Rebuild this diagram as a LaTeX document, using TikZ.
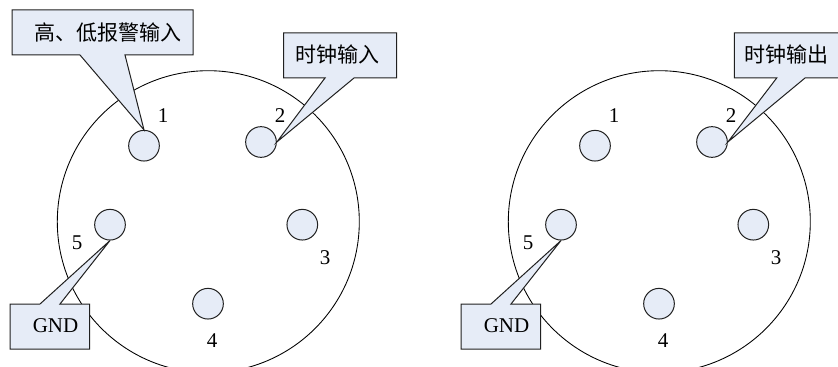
\documentclass[tikz,border=0pt]{standalone}
\usepackage{fontspec}
\setmainfont{Liberation Serif}
\newfontfamily\cjkf{Noto Sans CJK SC}
\definecolor{fillblue}{HTML}{E6ECF7}
\definecolor{edge}{HTML}{202020}
\tikzset{
  pin/.style={circle,draw=edge,fill=fillblue,line width=0.75pt,minimum size=23pt,inner sep=0pt},
  shell/.style={draw=black,line width=0.65pt,fill=white},
  callout/.style={draw=edge,fill=fillblue,line width=0.75pt,line join=miter},
  num/.style={font=\fontsize{15.75}{18}\selectfont,inner sep=0pt},
  lab/.style={font=\fontsize{15.75}{18}\selectfont\cjkf,inner sep=0pt},
  gndlab/.style={font=\fontsize{15.75}{18}\selectfont,inner sep=0pt}
}
\begin{document}
\begin{tikzpicture}[x=0.75pt,y=-0.75pt]
\useasboundingbox (0,0) rectangle (838,367);
\clip (0,0) rectangle (838,367);
\foreach \ox/\pre in {0/a,451/b}{
  \begin{scope}[xshift=\ox*0.75pt]
    \node[shell,circle,minimum size=226.5pt,inner sep=0pt] (\pre c) at (208.3,221.7) {};
    \node[pin] (\pre p1) at (144,145.7) {};
    \node[pin] (\pre p2) at (261,142) {};
    \node[pin] (\pre p3) at (302.3,224.7) {};
    \node[pin] (\pre p4) at (208,303.7) {};
    \node[pin] (\pre p5) at (110,224.7) {};
    \node[num] (\pre n1) at (163,115.5) {1};
    \node[num] (\pre n2) at (280,115.5) {2};
    \node[num] (\pre n3) at (325,258) {3};
    \node[num] (\pre n4) at (212,341) {4};
    \node[num] (\pre n5) at (77,243) {5};
    \draw[callout] (10,304) -- (40,304) -- (\pre p5.south) -- (60,304) -- (89.5,304) -- (89.5,349) -- (10,349) -- cycle;
    \node[gndlab] (\pre gnd) at (55.5,326) {GND};
  \end{scope}
}
\draw[callout] (12,10) -- (193,10) -- (193,55) -- (125,55) -- (ap1.north) -- (80,55) -- (12,55) -- cycle;
\node[lab] (t1) at (108,33) {高、低报警输入};
\draw[callout] (283.5,33) -- (396.5,33) -- (396.5,78) -- (354,78) -- (ap2.east) -- (325,78) -- (283.5,78) -- cycle;
\node[lab] (t2) at (337,55) {时钟输入};
\draw[callout] (734.3,33) -- (840,33) -- (840,78) -- (805,78) -- (bp2.east) -- (776.7,78) -- (734.3,78) -- cycle;
\node[lab] (t3) at (786.7,55) {时钟输出};
\end{tikzpicture}
\end{document}
